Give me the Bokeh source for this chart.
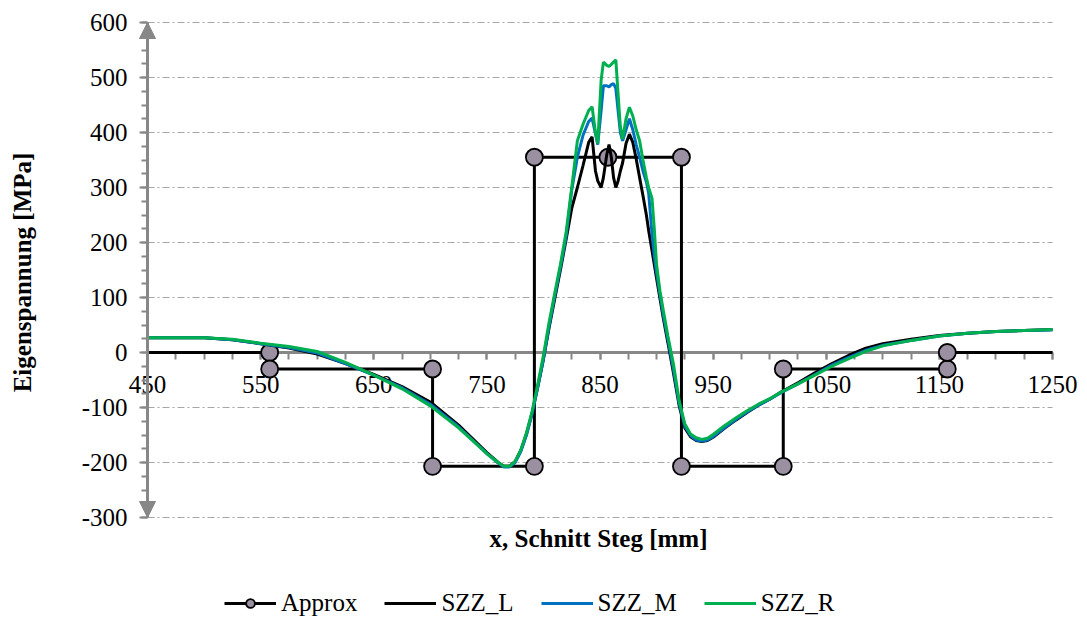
import math
from bokeh.plotting import figure
from bokeh.models import (LinearAxis, FixedTicker, Arrow, NormalHead, Legend,
                          LegendItem, Range1d, Label, CustomJSTickFormatter)
from bokeh.embed import file_html
from bokeh.resources import INLINE

# ---------------- data ----------------
x_mm = [450, 475, 500, 525, 550, 575, 600, 625, 650, 675, 700, 725, 750, 760, 765,
        770, 775, 780, 785, 790, 795, 800, 805, 810, 815, 820, 825, 830, 835, 840,
        843, 846, 848, 851, 853, 856, 858, 860, 862, 864, 866, 868, 870, 873, 876,
        879, 882, 885, 888, 891, 893, 896, 898, 900, 903, 906, 910, 915, 920, 925,
        930, 935, 940, 945, 950, 960, 970, 980, 990, 1000, 1010, 1025, 1040, 1055,
        1070, 1085, 1100, 1125, 1150, 1175, 1200, 1225, 1250]

szz_l = [27, 27, 27, 23, 16, 8, -3, -20, -40, -62, -90, -132, -182, -200, -207,
         -207, -198, -178, -148, -110, -62, -12, 45, 98, 150, 205, 262, 300, 340, 382,
         392, 330, 312, 300, 318, 360, 378, 355, 318, 300, 312, 330, 345, 380, 397,
         382, 352, 318, 285, 250, 222, 185, 160, 135, 98, 62, 18, -38, -97, -137,
         -153, -160, -162, -160, -154, -138, -123, -109, -96, -85, -72, -55, -37, -20,
         -5, 8, 16, 24, 31, 35, 38, 40, 42]

szz_m = [27, 27, 27, 23, 16, 9, -1, -20, -41, -64, -94, -135, -184, -201, -208,
         -208, -200, -180, -150, -111, -63, -12, 48, 103, 155, 210, 295, 355, 395, 420,
         426, 398, 378, 440, 485, 485, 483, 487, 489, 480, 440, 400, 385, 405, 425,
         405, 378, 355, 330, 310, 290, 215, 175, 145, 105, 68, 24, -32, -93, -134,
         -151, -159, -161, -159, -153, -137, -122, -108, -96, -85, -73, -57, -40, -23,
         -9, 4, 13, 22, 30, 35, 38, 40, 41]

szz_r = [27, 27, 27, 24, 17, 11, 2, -18, -41, -66, -97, -137, -184, -200, -207,
         -207, -198, -177, -146, -107, -58, -5, 55, 108, 160, 218, 300, 385, 415, 440,
         447, 400, 380, 495, 528, 522, 520, 524, 528, 532, 470, 410, 388, 425, 446,
         430, 405, 385, 350, 318, 300, 280, 225, 160, 112, 76, 30, -22, -88, -130,
         -148, -155, -158, -156, -149, -133, -119, -106, -94, -84, -72, -57, -41, -25,
         -11, 2, 12, 22, 30, 35, 38, 40, 42]

approx_x = [450, 558, 558, 702, 702, 792, 792, 857, 922, 922, 1012, 1012, 1157, 1157, 1250]
approx_y = [0, 0, -30, -30, -207, -207, 355, 355, 355, -207, -207, -30, -30, 0, 0]

x_major = [450, 550, 650, 750, 850, 950, 1050, 1150, 1250]
x_minor = list(range(450, 1251, 25))
y_major = [-300, -200, -100, 0, 100, 200, 300, 400, 500, 600]
y_minor = list(range(-300, 601, 25))

series_names = ["Approx", "SZZ_L", "SZZ_M", "SZZ_R"]
x_title = "x, Schnitt Steg [mm]"
y_title = "Eigenspannung [MPa]"

# ---------------- layout constants (pixels) ----------------
W, H = 1085, 621
PLOT_LEFT, PLOT_RIGHT = 147, 1052      # px of x = 450 / 1250
PLOT_TOP, PLOT_BOTTOM = 22, 517        # px of y = 600 / -300
kx = (PLOT_RIGHT - PLOT_LEFT) / (x_major[-1] - x_major[0])
ky = (PLOT_BOTTOM - PLOT_TOP) / (y_major[-1] - y_major[0])
x_start = x_major[0] - PLOT_LEFT / kx
x_end = x_start + W / kx
y_end = y_major[-1] + PLOT_TOP / ky
y_start = y_end - H / ky


def px2x(px):
    return x_start + px / kx


def px2y(py):
    return y_end - py / ky


FONT = "Liberation Serif"
AXIS_GRAY = "#878787"
GRID_GRAY = "#a6a6a6"

# ---------------- figure ----------------
p = figure(frame_width=W, frame_height=H, min_border=0,
           x_range=Range1d(x_start, x_end), y_range=Range1d(y_start, y_end),
           x_axis_location=None, y_axis_location=None,
           output_backend="svg", toolbar_location=None)
p.center = []
p.outline_line_color = None
p.background_fill_color = "white"
p.border_fill_color = "white"

fmt = CustomJSTickFormatter(code="return String(tick)")

# horizontal dash-dot gridlines between the axis limits
grid_y = [v for v in y_major if v != 0]
p.segment(x0=[x_major[0]] * len(grid_y), x1=[x_major[-1]] * len(grid_y),
          y0=grid_y, y1=grid_y, line_color=GRID_GRAY, line_width=1,
          line_dash="7 3 2 3")

# x axis drawn through y = 0
xax = LinearAxis(ticker=FixedTicker(ticks=x_major, minor_ticks=x_minor),
                 fixed_location=0, bounds=(x_major[0], x_major[-1]), formatter=fmt)
xax.axis_line_color = AXIS_GRAY
xax.axis_line_width = 3
xax.major_tick_line_color = AXIS_GRAY
xax.minor_tick_line_color = AXIS_GRAY
xax.major_tick_line_width = 2
xax.minor_tick_line_width = 2
xax.major_tick_in = 0
xax.minor_tick_in = 0
xax.major_tick_out = 7
xax.minor_tick_out = 7
xax.major_label_standoff = 16
xax.major_label_text_font = FONT
xax.major_label_text_font_size = "25px"
xax.major_label_text_color = "black"
xax.level = "underlay"
p.add_layout(xax, "below")

# y axis at x = 450
yax = LinearAxis(ticker=FixedTicker(ticks=y_major, minor_ticks=y_minor),
                 fixed_location=x_major[0], bounds=(y_major[0], y_major[-1]), formatter=fmt)
yax.axis_line_color = AXIS_GRAY
yax.axis_line_width = 3
yax.major_tick_line_color = AXIS_GRAY
yax.minor_tick_line_color = AXIS_GRAY
yax.major_tick_line_width = 2
yax.minor_tick_line_width = 2
yax.major_tick_in = 0
yax.minor_tick_in = 0
yax.major_tick_out = 8
yax.minor_tick_out = 6
yax.major_label_standoff = 12
yax.major_label_text_font = FONT
yax.major_label_text_font_size = "25px"
yax.major_label_text_color = "black"
p.add_layout(yax, "left")

# arrow heads on y axis
arrow = Arrow(x_start=x_major[0], y_start=y_major[0], x_end=x_major[0], y_end=y_major[-1],
              line_color=AXIS_GRAY, line_width=3,
              start=NormalHead(size=16, fill_color=AXIS_GRAY, line_color=AXIS_GRAY),
              end=NormalHead(size=16, fill_color=AXIS_GRAY, line_color=AXIS_GRAY))
p.add_layout(arrow)

# axis titles
p.add_layout(Label(x=px2x(598), y=px2y(538), text=x_title, text_font=FONT,
                   text_font_size="25px", text_font_style="bold", text_color="black",
                   text_align="center", text_baseline="middle"))
p.add_layout(Label(x=px2x(22), y=px2y(272), text=y_title, angle=math.pi / 2,
                   text_font=FONT, text_font_size="25px", text_font_style="bold",
                   text_color="black", text_align="center", text_baseline="middle"))

# ---------------- glyphs ----------------
approx_line = p.line(approx_x, approx_y, line_color="black", line_width=3)
approx_pts = p.scatter(approx_x[1:-1], approx_y[1:-1], size=17, marker="circle",
                       fill_color="#9b90a2", line_color="black", line_width=1.8)
l_line = p.line(x_mm, szz_l, line_color="black", line_width=3)
m_line = p.line(x_mm, szz_m, line_color="#0070C0", line_width=3)
r_line = p.line(x_mm, szz_r, line_color="#00B050", line_width=3)

legend = Legend(items=[
    LegendItem(label=series_names[0], renderers=[approx_line, approx_pts]),
    LegendItem(label=series_names[1], renderers=[l_line]),
    LegendItem(label=series_names[2], renderers=[m_line]),
    LegendItem(label=series_names[3], renderers=[r_line]),
], orientation="horizontal", location=(224, H - 617))
legend.label_text_font = FONT
legend.label_text_font_size = "25px"
legend.label_text_color = "black"
legend.glyph_width = 52
legend.glyph_height = 22
legend.label_height = 22
legend.label_standoff = 5
legend.spacing = 27
legend.padding = 0
legend.margin = 0
legend.border_line_color = None
legend.background_fill_alpha = 0
p.add_layout(legend)

open("out.html", "w").write(file_html(p, INLINE))
